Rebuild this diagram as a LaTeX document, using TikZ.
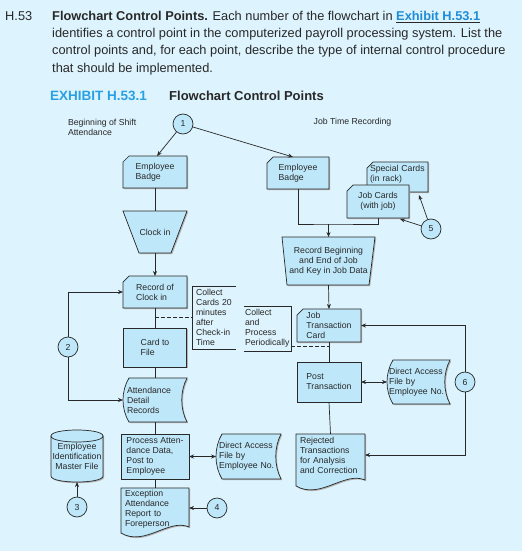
\documentclass[tikz,border=0pt]{standalone}
\usepackage{fontspec}
\setmainfont{Liberation Sans}
\usetikzlibrary{arrows.meta,shadows,calc}
\definecolor{bgc}{RGB}{221,243,253}
\definecolor{shf}{RGB}{190,232,250}
\definecolor{lnk}{RGB}{30,140,215}
\definecolor{exb}{RGB}{40,160,228}
\definecolor{ink}{RGB}{40,40,40}
\newcommand\dfont{\fontsize{8.7}{10}\selectfont}
\tikzset{
 shp/.style={fill=shf, draw=ink, line width=0.7pt, drop shadow={shadow xshift=1.2pt, shadow yshift=-1.2pt, fill=black!30, opacity=1}},
 lbl/.style={font=\dfont, text=ink, inner sep=0pt, outer sep=0pt, align=left},
 cnum/.style={circle, draw=ink, fill=shf, line width=0.7pt, minimum size=20pt, inner sep=0pt, font=\dfont, text=ink},
 con/.style={draw=ink, line width=0.7pt},
 arr/.style={con, -{Stealth[length=5pt,width=4pt]}},
 darr/.style={con, {Stealth[length=5pt,width=4pt]}-{Stealth[length=5pt,width=4pt]}},
 dsh/.style={con, dash pattern=on 4pt off 2pt},
 hd/.style={font=\fontsize{12.8}{17}\selectfont, text=ink, inner sep=0pt, anchor=base west},
}
\newcommand\cardshp[4]{\path[shp] ({#1+6},#2) -- (#3,#2) -- (#3,#4) -- (#1,#4) -- (#1,{#2+6}) -- cycle;}
\newcommand\rectshp[4]{\path[shp] (#1,#2) rectangle (#3,#4);}
\newcommand\trapshp[6]{\path[shp] (#1,#3) -- (#2,#3) -- (#5,#6) -- (#4,#6) -- cycle;}
\newcommand\sdshp[4]{\path[shp] ({#1+6},#2) -- (#3,#2) .. controls ({#3-7},{#2+0.3*(#4-#2)}) and ({#3-7},{#4-0.3*(#4-#2)}) .. (#3,#4) -- ({#1+6},#4) .. controls ({#1-2},{#4-0.3*(#4-#2)}) and ({#1-2},{#2+0.3*(#4-#2)}) .. ({#1+6},#2) -- cycle;}
\newcommand\docshp[5]{\path[shp] (#1,#2) -- (#3,#2) -- (#3,#5) .. controls ({#3-0.3*(#3-#1)},{#5-9}) and ({#1+0.35*(#3-#1)},{#4+14}) .. (#1,#4) -- cycle;}
\begin{document}
\begin{tikzpicture}[x=1pt,y=-1pt]
\fill[bgc] (0,0) rectangle (522,551);
\useasboundingbox (0,0) rectangle (522,551);
% heading
\node[hd] (h53) at (5,20.5) {H.53};
\node[hd] (l1) at (52,20.5) {\textbf{Flowchart Control Points.} Each number of the flowchart in \underline{\textcolor{lnk}{\textbf{Exhibit H.53.1}}}};
\node[hd] (l2) at (52,37.7) {identifies a control point in the computerized payroll processing system. List the};
\node[hd] (l3) at (52,55) {control points and, for each point, describe the type of internal control procedure};
\node[hd] (l4) at (52,72.3) {that should be implemented.};
\node[hd, font=\fontsize{13.5}{16}\selectfont\bfseries, text=exb] (ex) at (50,100) {EXHIBIT H.53.1};
\node[hd, font=\fontsize{13}{16}\selectfont\bfseries] (ext) at (169,100) {Flowchart Control Points};
% section labels
\node[lbl, anchor=west] (bsa) at (68,127) {Beginning of Shift\\Attendance};
\node[lbl] (jtr) at (352.5,122) {Job Time Recording};
% left column
\cardshp{123}{156}{187}{188}
\node[lbl, minimum width=64pt, minimum height=32pt] (eb1) at (155,172) {Employee\\Badge};
\trapshp{123}{187}{211}{139}{171}{253}
\node[lbl, minimum width=64pt, minimum height=42pt] (clk) at (155,232) {Clock in};
\cardshp{123}{276}{187}{308}
\node[lbl, minimum width=64pt, minimum height=32pt] (rec) at (155,292) {Record of\\Clock in};
\rectshp{123.5}{328}{186.5}{367}
\node[lbl, minimum width=63pt, minimum height=39pt] (c2f) at (155,347.5) {Card to\\File};
\sdshp{123}{378}{187}{422}
\node[lbl, minimum height=44pt, text width=56pt, inner xsep=4pt] (adr) at (155,400) {Attendance\\Detail\\Records};
\rectshp{121}{434}{189}{479}
\node[lbl, minimum width=68pt, minimum height=45pt] (pad) at (155,456.5) {Process Atten-\\dance Data,\\Post to\\Employee};
\docshp{121}{488}{189}{533}{527}
\node[lbl, minimum height=42pt, text width=60pt, inner xsep=4pt] (exc) at (155,509) {Exception\\Attendance\\Report to\\Foreperson};
\sdshp{216}{434}{281}{479}
\node[lbl, minimum height=45pt, text width=59pt, inner xsep=3pt] (daf1) at (248.5,456.5) {Direct Access\\File by\\Employee No.};
% cylinder
\path[shp] (51,436) -- (51,476) .. controls (51,484) and (103,484) .. (103,476) -- (103,436) .. controls (103,428) and (51,428) .. (51,436) -- cycle;
\draw[con] (51,436) .. controls (51,444) and (103,444) .. (103,436);
\node[lbl, align=center, minimum width=52pt, minimum height=52pt] (cyl) at (77,456) {Employee\\Identification\\Master File};
% annotation brackets
\node[lbl, minimum height=63pt, text width=36pt, inner xsep=4pt] (col1) at (214,317.5) {Collect\\Cards 20\\minutes\\after\\Check-in\\Time};
\draw[con] (col1.north east) -- (col1.north west) -- (col1.south west) -- (col1.south east);
\node[lbl, minimum height=45pt, text width=45pt, inner xsep=1pt] (col2) at (267.5,328.5) {Collect\\and\\Process\\Periodically};
\draw[con] (col2.north west) -- (col2.north east) -- (col2.south east) -- (col2.south west);
% right column
\cardshp{267}{157}{329}{189}
\node[lbl, minimum width=62pt, minimum height=32pt] (eb2) at (298,173) {Employee\\Badge};
\cardshp{367}{162}{428}{192}
\node[lbl, minimum height=24pt, text width=55pt, inner xsep=3pt] (spc) at (397.5,174) {Special Cards\\(in rack)};
\cardshp{347}{185}{409}{218}
\node[lbl, align=center, minimum width=62pt, minimum height=33pt] (jcd) at (378,201.5) {Job Cards\\(with job)};
\trapshp{282}{375}{237}{287}{369}{285}
\node[lbl, align=center, minimum width=93pt, minimum height=48pt] (rbj) at (328.5,261) {Record Beginning\\and End of Job\\and Key in Job Data};
\cardshp{297}{309}{361}{342}
\node[lbl, minimum width=64pt, minimum height=33pt] (jtc) at (329,325.5) {Job\\Transaction\\Card};
\rectshp{297}{362}{361}{402}
\node[lbl, minimum width=64pt, minimum height=40pt] (pt) at (329,382) {Post\\Transaction};
\sdshp{387}{360}{450}{404}
\node[lbl, minimum height=44pt, text width=59pt, inner xsep=2pt] (daf2) at (418.5,382) {Direct Access\\File by\\Employee No.};
\docshp{296}{434}{365}{486}{480}
\node[lbl, minimum height=42pt, text width=61pt, inner xsep=4pt] (rej) at (330.5,455) {Rejected\\Transactions\\for Analysis\\and Correction};
% control point circles
\node[cnum] (c1) at (183,124) {1};
\node[cnum] (c2) at (68,347) {2};
\node[cnum] (c3) at (77,507) {3};
\node[cnum] (c4) at (217,508) {4};
\node[cnum] (c5) at (431,229) {5};
\node[cnum] (c6) at (465,382) {6};
% connectors
\draw[arr] (c1) -- ([xshift=2pt]eb1.north);
\draw[arr] (c1) -- ([xshift=-5pt]eb2.north);
\draw[con] (eb1.south) -- (clk.north);
\draw[arr] (clk.south) -- (rec.north);
\draw[con] (rec.south) -- (c2f.north);
\draw[con] (c2f.south) -- (adr.north);
\draw[con] (adr.south) -- (pad.north);
\draw[con] (pad.south) -- (exc.north);
\draw[dsh] (rec.south |- col1.west) -- (col1.west);
\coordinate (dB) at ([yshift=5pt]col2.south east);
\draw[dsh] (dB) -- (dB -| jtc.south);
\draw[arr] (c2.north) |- (rec.west);
\draw[arr] (c2.south) |- (adr.west);
\draw[darr] (pad.east) -- (daf1.west);
\draw[arr] (c3) -- (cyl.south);
\draw[arr] (c4) -- (exc.east |- c4.west);
\coordinate (jn) at (328.5,224);
\draw[con] (eb2.south) |- (jn) -| (jcd.south);
\draw[arr] (jn) -- (rbj.north);
\draw[arr] (c5) -- ([shift={(-9pt,-1pt)}]jcd.south east);
\draw[arr] (c5) -- ([shift={(-9pt,-9pt)}]spc.south east);
\draw[arr] (rbj.south) -- (jtc.north);
\draw[con] (jtc.south) -- (pt.north);
\draw[con] (pt.south) -- (rej.north);
\draw[darr] (pt.east) -- (daf2.west);
\draw[arr] (c6.north) |- (jtc.east);
\draw[arr] (c6.south) |- (rej.east);
\end{tikzpicture}
\end{document}
